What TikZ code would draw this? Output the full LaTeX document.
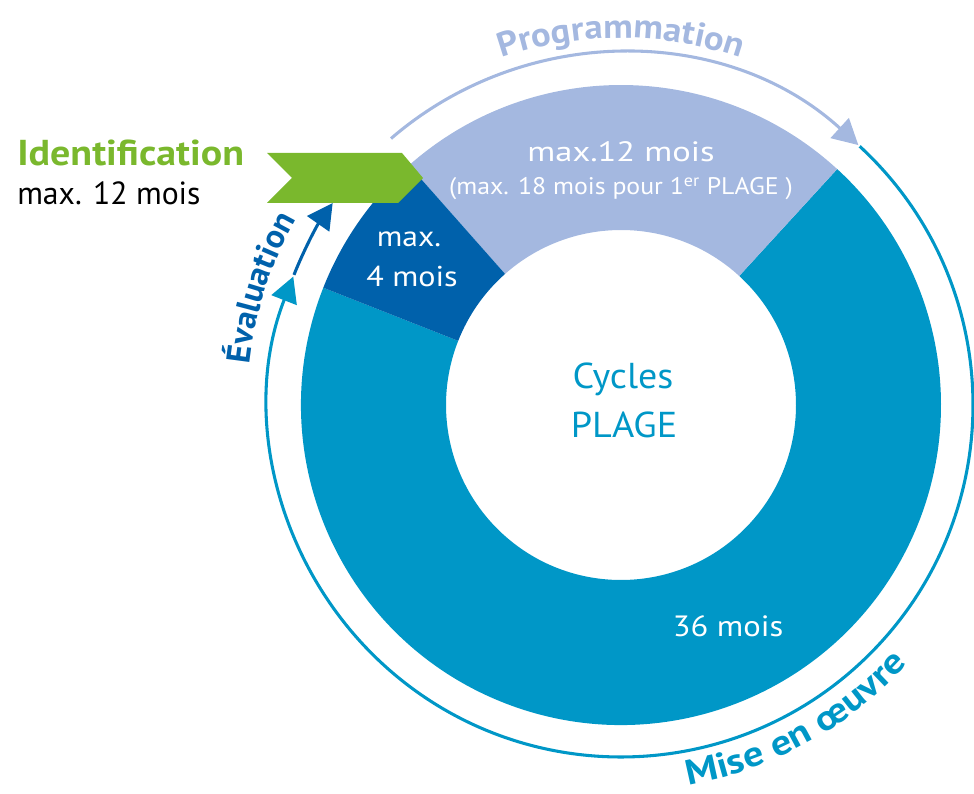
\documentclass[tikz,border=0pt]{standalone}
\usepackage{fontspec}
\setmainfont{PT Sans}
\usetikzlibrary{calc,arrows.meta,decorations.text}
\definecolor{cgreen}{HTML}{7AB82D}
\definecolor{clav}{HTML}{A4B8E0}
\definecolor{cdblue}{HTML}{0061AB}
\definecolor{cmblue}{HTML}{0097C7}
\newcommand\fsz[3]{\fontsize{#1}{#1}\selectfont\addfontfeature{FakeStretch=#2}#3}
\begin{document}
\begin{tikzpicture}[x=0.75pt,y=0.75pt,
  lbl/.style={inner sep=0pt, anchor=base},
  ring/.style={line width=2.3pt},
  tip/.style={-{Triangle[length=19pt,width=20pt]}}
]
\useasboundingbox (0,0) rectangle (974,793);
\coordinate (C) at (621,388);
% donut segments
\fill[cmblue] ($(C)+(158.5:320)$) arc[start angle=158.5,end angle=407.5,radius=320]
  -- ($(C)+(47.5:175)$) arc[start angle=407.5,end angle=158.5,radius=175] -- cycle;
\fill[clav] ($(C)+(47.5:320)$) arc[start angle=47.5,end angle=131.5,radius=320]
  -- ($(C)+(131.5:175)$) arc[start angle=131.5,end angle=47.5,radius=175] -- cycle;
\fill[cdblue] ($(C)+(131.5:320)$) arc[start angle=131.5,end angle=158.5,radius=320]
  -- ($(C)+(158.5:175)$) arc[start angle=158.5,end angle=131.5,radius=175] -- cycle;
% green chevron
\fill[cgreen] (267,640) -- (402,640) -- (423,615) -- (398,590) -- (267,590) -- (292,615) -- cycle;
% outer arcs
\draw[clav, ring, tip] ($(C)+(130.8:352)$) arc[start angle=130.8,end angle=47.6,radius=352];
\draw[cmblue, ring, tip] ($(C)+(47.3:352)$) arc[start angle=47.3,end angle=-201.4,radius=352];
\draw[cdblue, ring, tip] ($(C)+(158.3:352)$) arc[start angle=158.3,end angle=145,radius=352];
% curved labels
\path[decorate, decoration={text along path, text align=center, text color=clav,
  text={|\fsz{25.5}{1.08}{\bfseries}|Programmation}}]
  ($(C)+(125:367)$) arc[start angle=125,end angle=55,radius=367];
\path[decorate, decoration={text along path, text align=center, text color=cdblue,
  text={|\fsz{25}{1.02}{\bfseries}|Évaluation}}]
  ($(C)+(192:374)$) arc[start angle=192,end angle=132,radius=374];
\path[decorate, decoration={text along path, text align=center, text color=cmblue,
  text={|\fsz{26.5}{1.15}{\bfseries}|Mise en œuvre}}]
  ($(C)+(-94:386)$) arc[start angle=-94,end angle=-28,radius=386];
% labels
\node[lbl, anchor=base west, text=cgreen, font=\fsz{27}{1.11}{\bfseries}] (ident) at (17,627) {Identification};
\node[lbl, anchor=base west, text=black, font=\fsz{24}{0.99}{}] (identm) at (17,588) {max. 12 mois};
\node[lbl, text=white, font=\fsz{21}{1.23}{}] (prog) at (621,631) {max.12 mois};
\node[lbl, text=white, font=\fsz{18}{1.075}{}] (progsub) at (621,598) {(max. 18 mois pour 1\textsuperscript{er} PLAGE )};
\node[lbl, text=white, font=\fsz{21.5}{1.1}{}] (eval1) at (409,546) {max.};
\node[lbl, text=white, font=\fsz{21.5}{1.12}{}] (eval2) at (412,506) {4 mois};
\node[lbl, text=cmblue, font=\fsz{27}{1.055}{}] (cyc1) at (623,404) {Cycles};
\node[lbl, text=cmblue, font=\fsz{27}{1.06}{}] (cyc2) at (624,355) {PLAGE};
\node[lbl, text=white, font=\fsz{22}{1.11}{}] (mise) at (728,157) {36 mois};
\end{tikzpicture}
\end{document}
